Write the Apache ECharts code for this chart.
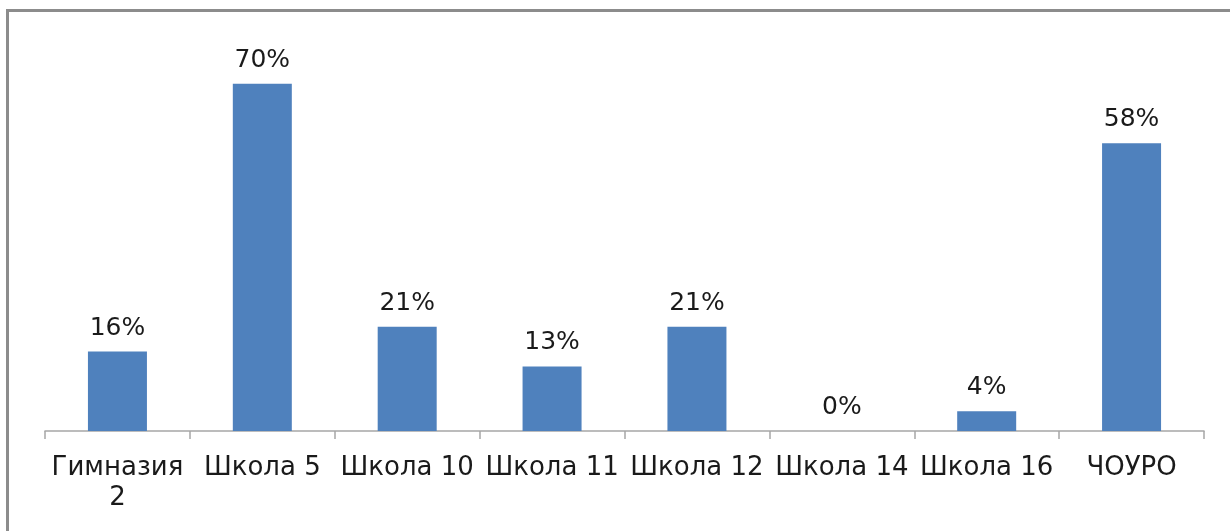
<!DOCTYPE html>
<html>
<head>
<meta charset="utf-8">
<script src="https://cdn.jsdelivr.net/npm/echarts@6/dist/echarts.min.js"></script>
<style>
  html, body { margin: 0; padding: 0; background: #fff; }
  .frame {
    position: absolute;
    left: 6px;
    top: 9px;
    width: 1230px;
    height: 531px;
    border-left: 3px solid #8c8c8c;
    border-top: 3px solid #8c8c8c;
  }
  #chart { position: absolute; left: 0; top: 0; width: 1230px; height: 531px; }
</style>
</head>
<body>
<div class="frame"></div>
<div id="chart"></div>
<script>
// данные
const categories = ['Гимназия\n2', 'Школа 5', 'Школа 10', 'Школа 11', 'Школа 12', 'Школа 14', 'Школа 16', 'ЧОУРО']
const values = [16, 70, 21, 13, 21, 0, 4, 58]

const myChart = echarts.init(document.getElementById('chart'))

const option = {
  animation: false,
  grid: {
    left: 45,
    right: 26,
    top: 34,
    bottom: 100
  },
  xAxis: {
    type: 'category',
    data: categories,
    axisLine: { lineStyle: { color: '#a6a6a6', width: 1.5 } },
    axisTick: { show: true, length: 8, lineStyle: { color: '#a6a6a6', width: 1.5 } },
    axisLabel: {
      interval: 0,
      margin: 22,
      color: '#1a1a1a',
      fontSize: 26,
      fontFamily: 'DejaVu Sans',
      lineHeight: 30
    }
  },
  yAxis: {
    type: 'value',
    min: 0,
    max: 80,
    show: false,
    splitLine: { show: false }
  },
  series: [
    {
      type: 'bar',
      data: values,
      barWidth: 59,
      itemStyle: { color: '#4f81bd' },
      label: {
        show: true,
        position: 'top',
        distance: 11,
        formatter: '{c}%',
        color: '#1a1a1a',
        fontSize: 25,
        fontFamily: 'DejaVu Sans'
      }
    }
  ]
}

option && myChart.setOption(option)
</script>
</body>
</html>
